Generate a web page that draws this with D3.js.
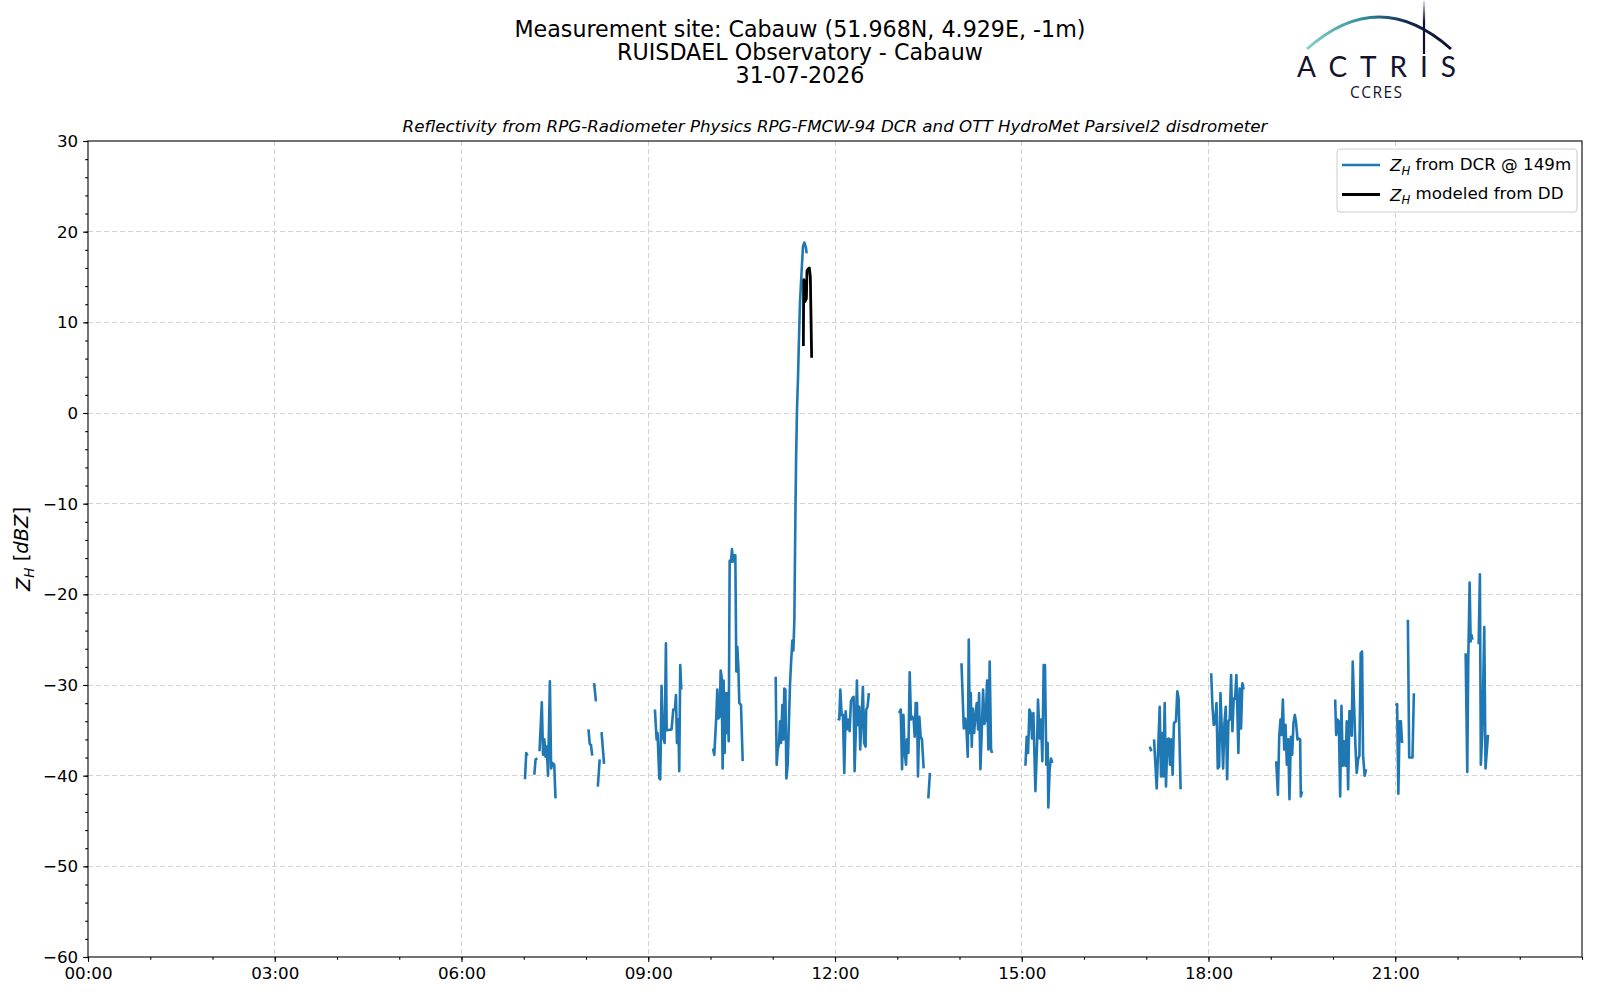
<!DOCTYPE html>
<html>
<head>
<meta charset="utf-8">
<script src="https://cdn.jsdelivr.net/npm/d3@7"></script>
<style>
  body { margin: 0; background: #fff; }
  svg { display: block; font-family: "DejaVu Sans", sans-serif; }
</style>
</head>
<body>
<svg id="chart" width="1600" height="1000"></svg>
<script>
// ---- texts ----
var titleLines = ["Measurement site: Cabauw (51.968N, 4.929E, -1m)", "RUISDAEL Observatory - Cabauw", "31-07-2026"];
var subTitle = "Reflectivity from RPG-Radiometer Physics RPG-FMCW-94 DCR and OTT HydroMet Parsivel2 disdrometer";

// ---- ticks ----
var xMajorHours = [0, 3, 6, 9, 12, 15, 18, 21];
var xMinorHours = d3.range(0, 25, 1);
var yMajor = [-60, -50, -40, -30, -20, -10, 0, 10, 20, 30];
var yMinor = d3.range(-60, 31, 2);

// ---- DCR reflectivity @149m : [hour, dBZ], null = no data ----
var dcr07 = [[7.02,-40.4],[7.04,-37.5],[7.06,-37.8],null,
  [7.17,-39.9],[7.19,-38.2],[7.22,-38.1],null,
  [7.253,-37.3],[7.29,-31.9],[7.31,-37.7],[7.33,-36.0],[7.35,-37.9],[7.37,-36.8],[7.39,-40.0],[7.42,-29.6],
  [7.44,-39.2],[7.46,-38.6],[7.49,-38.8],[7.51,-42.5]];
var dcr08 = [[8.04,-34.9],[8.06,-36.5],[8.08,-36.6],[8.10,-37.8],null,
  [8.13,-29.8],[8.16,-31.8],null,
  [8.19,-41.2],[8.22,-38.2],null,
  [8.25,-35.2],[8.29,-38.7]];
var dcr09 = [[9.107,-32.7],[9.134,-36.0],[9.150,-35.3],[9.177,-40.3],[9.193,-40.4],[9.214,-30.1],[9.236,-35.7],
  [9.263,-36.4],[9.284,-25.4],[9.296,-35.0],[9.375,-34.9],[9.402,-32.7],[9.429,-32.7],[9.445,-31.1],[9.461,-36.4],
  [9.482,-33.8],[9.498,-39.5],[9.514,-27.8],[9.531,-30.5]];
var dcr10 = [[10.040,-37.0],[10.061,-37.7],[10.093,-33.5],[10.109,-30.5],[10.125,-33.7],[10.147,-33.5],[10.163,-28.4],
  [10.179,-29.1],[10.195,-39.2],[10.211,-29.5],[10.227,-37.5],[10.243,-30.9],[10.259,-35.3],[10.275,-30.9],
  [10.292,-36.2],[10.308,-16.3],[10.329,-16.4],[10.345,-15.0],[10.361,-16.4],[10.377,-15.7],[10.399,-15.7],
  [10.415,-28.5],[10.431,-25.8],[10.447,-28.0],[10.463,-32.0],[10.490,-32.2],[10.517,-38.4]];
var dcr11 = [[11.047,-29.1],[11.063,-38.8],[11.079,-37.2],[11.101,-36.4],[11.117,-34.0],[11.133,-36.4],[11.154,-32.2],
  [11.170,-36.0],[11.186,-30.4],[11.203,-30.5],[11.219,-40.3],[11.240,-38.8],[11.261,-33.8],[11.278,-29.8],
  [11.294,-27.6],[11.315,-25.1],[11.331,-26.2],[11.347,-22.9],[11.363,-11.8],[11.375,-5.0],[11.39,0.5],
  [11.405,3.7],[11.416,6.8],[11.437,12.1],[11.465,15.8],[11.486,18.4],[11.508,18.8],[11.534,18.2],[11.545,17.6]];
var dcr12 = [[12.043,-33.7],[12.069,-33.8],[12.085,-30.5],[12.107,-33.3],[12.128,-33.3],[12.149,-39.7],[12.171,-32.9],
  [12.192,-34.9],[12.213,-33.8],[12.235,-35.1],[12.256,-31.8],[12.277,-31.5],[12.299,-31.3],[12.315,-39.5],
  [12.336,-34.6],[12.352,-29.5],[12.368,-34.4],[12.389,-32.4],[12.405,-37.1],[12.427,-33.8],[12.448,-30.2],
  [12.469,-36.4],[12.491,-36.8],[12.501,-32.7],[12.523,-32.4],[12.544,-30.9]];
var dcr13 = [[13.029,-33.1],[13.056,-32.7],[13.077,-39.3],[13.099,-33.3],[13.120,-37.5],[13.141,-38.8],[13.157,-36.0],
  [13.179,-37.5],[13.200,-28.6],[13.221,-33.8],[13.243,-33.5],[13.264,-33.8],[13.280,-35.7],[13.296,-32.0],
  [13.317,-32.0],[13.333,-40.1],[13.355,-33.5],[13.376,-35.7],[13.397,-36.0],[13.424,-39.2],null,
  [13.499,-42.5],[13.525,-39.7]];
var dcr14 = [[14.032,-27.6],[14.069,-34.8],[14.091,-33.7],[14.112,-34.9],[14.133,-37.9],[14.149,-25.0],[14.165,-35.3],
  [14.181,-30.9],[14.197,-36.8],[14.213,-32.6],[14.235,-35.3],[14.256,-33.3],[14.277,-32.0],[14.299,-34.9],
  [14.315,-30.9],[14.336,-39.3],[14.357,-35.3],[14.379,-30.5],[14.400,-34.3],[14.421,-33.8],[14.443,-29.5],
  [14.464,-37.1],[14.485,-27.4],[14.507,-37.1],[14.523,-37.5]];
var dcr15 = [[15.059,-38.9],[15.080,-35.7],[15.101,-37.5],[15.123,-32.7],[15.144,-33.1],[15.165,-35.9],[15.187,-33.1],
  [15.219,-41.7],[15.245,-36.8],[15.261,-31.6],[15.288,-35.9],[15.309,-33.8],[15.331,-38.4],[15.352,-27.8],
  [15.373,-27.8],[15.395,-38.8],[15.416,-36.4],[15.427,-43.5],[15.448,-39.3],[15.469,-38.1],[15.491,-38.6]];
var dcr17 = [[17.056,-36.8],[17.083,-37.3],null,
  [17.125,-36.0],[17.168,-41.4],[17.189,-37.5],[17.216,-32.4],[17.237,-40.1],[17.253,-35.3],[17.275,-40.1],
  [17.296,-32.0],[17.317,-41.2],[17.339,-36.0],[17.360,-35.9],[17.381,-38.8],[17.403,-36.0],[17.424,-39.9],
  [17.445,-34.2],[17.477,-34.0],[17.499,-30.7],[17.520,-31.5],[17.552,-41.5]];
var dcr18 = [[18.043,-28.7],[18.064,-32.4],[18.085,-34.4],[18.107,-34.2],[18.128,-32.0],[18.149,-39.2],[18.171,-39.0],
  [18.192,-30.9],[18.213,-34.8],[18.235,-39.2],[18.256,-34.2],[18.277,-32.4],[18.299,-40.4],[18.320,-34.0],
  [18.341,-33.8],[18.363,-28.9],[18.384,-35.1],[18.405,-31.5],[18.427,-31.5],[18.448,-28.9],[18.464,-32.9],
  [18.480,-37.5],[18.501,-30.4],[18.523,-34.8],[18.544,-29.8],[18.565,-30.5]];
var dcr19 = [[19.088,-38.4],[19.115,-42.1],[19.136,-35.7],[19.157,-33.8],[19.173,-35.5],[19.195,-31.6],[19.216,-37.1],
  [19.237,-34.4],[19.259,-38.8],[19.280,-36.0],[19.301,-42.6],[19.323,-35.7],[19.344,-37.7],[19.365,-34.2],
  [19.387,-33.3],[19.408,-34.2],[19.429,-36.0],[19.451,-35.9],[19.472,-36.0],[19.483,-42.3],[19.504,-41.7]];
var dcr20 = [[20.035,-31.6],[20.051,-35.5],[20.072,-33.8],[20.093,-34.0],[20.115,-42.3],[20.136,-32.3],[20.157,-38.9],
  [20.179,-36.2],[20.200,-38.9],[20.221,-34.0],[20.243,-41.5],[20.264,-32.9],[20.285,-32.9],[20.301,-35.6],
  [20.317,-27.4],[20.339,-32.3],[20.360,-36.7],[20.381,-39.7],[20.403,-38.2],[20.424,-37.8],[20.445,-26.5],
  [20.467,-26.3],[20.483,-37.8],[20.509,-40.0],[20.531,-39.3]];
var dcr21 = [[21.01,-32.3],[21.03,-32.1],[21.05,-42.0],[21.07,-34.0],[21.09,-34.0],[21.11,-36.4],null,
  [21.203,-22.8],[21.224,-38.0],[21.277,-38.0],[21.299,-30.9]];
var dcr22 = [[22.131,-26.5],[22.157,-39.6],[22.173,-27.2],[22.195,-18.7],[22.211,-25.2],[22.225,-24.5],[22.24,-25.0],null,
  [22.34,-25.5],[22.36,-17.8],[22.375,-38.8],[22.40,-35.0],[22.43,-23.6],[22.45,-39.2],[22.49,-35.5]];

// ---- Z_H modeled from disdrometer ----
var ddZh = [[11.492,7.4],[11.497,14.7],[11.505,12.5],[11.512,14.6],[11.520,12.3],[11.540,12.6],[11.550,15.7],
  [11.572,15.9],[11.588,16.0],[11.604,15.0],[11.625,6.1]];

var dcrBursts = [dcr07, dcr08, dcr09, dcr10, dcr11, dcr12, dcr13, dcr14, dcr15, dcr17, dcr18, dcr19, dcr20, dcr21, dcr22];
var dcrZh = [];
dcrBursts.forEach(function(b){ dcrZh = dcrZh.concat(b, [null]); });

// ---- layout ----
var W = 1600, H = 1000;
var margin = {left: 88, right: 18, top: 141, bottom: 43};
var plotW = W - margin.left - margin.right;
var plotH = H - margin.top - margin.bottom;

var svg = d3.select('#chart');

var x = d3.scaleLinear().domain([0, 24]).range([margin.left, margin.left + plotW]);
var y = d3.scaleLinear().domain([-60, 30]).range([margin.top + plotH, margin.top]);

function fmtHour(h){ return (h < 10 ? '0' : '') + h + ':00'; }
function fmtMinus(v){ return v < 0 ? '\u2212' + Math.abs(v) : String(v); }

// grid
var grid = svg.append('g').attr('class', 'grid');
grid.selectAll('line.gx').data(xMajorHours.slice(1)).enter().append('line')
  .attr('x1', function(d){ return x(d); }).attr('x2', function(d){ return x(d); })
  .attr('y1', margin.top).attr('y2', margin.top + plotH);
grid.selectAll('line.gy').data(yMajor.slice(1, -1)).enter().append('line')
  .attr('y1', function(d){ return y(d); }).attr('y2', function(d){ return y(d); })
  .attr('x1', margin.left).attr('x2', margin.left + plotW);
grid.selectAll('line').attr('stroke', '#d2d2d2').attr('stroke-width', 1).attr('stroke-dasharray', '5,3')
  .attr('shape-rendering', 'crispEdges');

// data lines
svg.append('clipPath').attr('id', 'clip').append('rect')
  .attr('x', margin.left).attr('y', margin.top).attr('width', plotW).attr('height', plotH);

var line = d3.line()
  .defined(function(d){ return d !== null; })
  .x(function(d){ return x(d[0]); })
  .y(function(d){ return y(d[1]); });

var plot = svg.append('g').attr('clip-path', 'url(#clip)');
plot.append('path').datum(dcrZh).attr('d', line)
  .attr('fill', 'none').attr('stroke', '#1f77b4').attr('stroke-width', 2.6).attr('stroke-linejoin', 'round');
plot.append('path').datum(ddZh).attr('d', line)
  .attr('fill', 'none').attr('stroke', '#000').attr('stroke-width', 2.8).attr('stroke-linejoin', 'round');

// axes
var xAxis = d3.axisBottom(x).tickValues(xMajorHours).tickFormat(fmtHour).tickSize(4.9).tickPadding(5.5);
var xAxisMinor = d3.axisBottom(x).tickValues(xMinorHours).tickFormat('').tickSize(2.8);
var yAxis = d3.axisLeft(y).tickValues(yMajor).tickFormat(fmtMinus).tickSize(4.9).tickPadding(4.9);
var yAxisMinor = d3.axisLeft(y).tickValues(yMinor).tickFormat('').tickSize(2.8);

var gx = svg.append('g').attr('transform', 'translate(0,' + (margin.top + plotH) + ')');
gx.call(xAxisMinor);
gx.append('g').call(xAxis);
var gy = svg.append('g').attr('transform', 'translate(' + margin.left + ',0)');
gy.call(yAxisMinor);
gy.append('g').call(yAxis);

svg.selectAll('.domain').remove();
svg.selectAll('.tick line').attr('stroke', '#000').attr('stroke-width', 1.1);
svg.selectAll('.tick text').attr('fill', '#000').style('font-size', '16.7px').style('font-family', '"DejaVu Sans", sans-serif');

// frame
svg.append('rect').attr('x', margin.left).attr('y', margin.top).attr('width', plotW).attr('height', plotH)
  .attr('fill', 'none').attr('stroke', '#000').attr('stroke-width', 1.1);

// y label
var yl = svg.append('text').attr('transform', 'translate(30,' + (margin.top + plotH / 2) + ') rotate(-90)')
  .attr('text-anchor', 'middle').style('font-size', '19.5px');
yl.append('tspan').style('font-style', 'italic').text('Z');
yl.append('tspan').style('font-style', 'italic').style('font-size', '13.5px').attr('dy', '0.3em').text('H');
yl.append('tspan').attr('dy', '-0.3em').text(' [');
yl.append('tspan').style('font-style', 'italic').text('dBZ');
yl.append('tspan').text(']');

// titles
svg.selectAll('text.title').data(titleLines).enter().append('text')
  .attr('class', 'title')
  .attr('x', 800).attr('y', function(d, i){ return 36.5 + i * 23.2; })
  .attr('text-anchor', 'middle').style('font-size', '22.2px').attr('fill', '#000')
  .text(function(d){ return d; });
svg.append('text').attr('x', margin.left + plotW / 2).attr('y', 131.5)
  .attr('text-anchor', 'middle').style('font-size', '16.7px').style('font-style', 'italic')
  .text(subTitle);

// legend
var legendItems = [{label: ' from DCR @ 149m', color: '#1f77b4', w: 2.6}, {label: ' modeled from DD', color: '#000', w: 2.8}];
var lg = svg.append('g');
lg.append('rect').attr('x', 1337).attr('y', 149).attr('width', 240).attr('height', 63).attr('rx', 3)
  .attr('fill', '#fff').attr('fill-opacity', 0.8).attr('stroke', '#cccccc').attr('stroke-width', 1);
legendItems.forEach(function(it, i){
  var yy = 165 + i * 29.5;
  lg.append('line').attr('x1', 1342).attr('x2', 1380).attr('y1', yy).attr('y2', yy)
    .attr('stroke', it.color).attr('stroke-width', it.w);
  var t = lg.append('text').attr('x', 1390).attr('y', yy + 6).style('font-size', '16.7px');
  t.append('tspan').style('font-style', 'italic').text('Z');
  t.append('tspan').style('font-style', 'italic').style('font-size', '11.7px').attr('dy', '0.3em').text('H');
  t.append('tspan').attr('dy', '-0.3em').text(it.label);
});

// ACTRIS logo
var defs = svg.append('defs');
var ag = defs.append('linearGradient').attr('id', 'arcGrad').attr('gradientUnits', 'userSpaceOnUse')
  .attr('x1', 1307).attr('x2', 1451).attr('y1', 0).attr('y2', 0);
ag.append('stop').attr('offset', '0%').attr('stop-color', '#86d0c8');
ag.append('stop').attr('offset', '40%').attr('stop-color', '#2f8d98');
ag.append('stop').attr('offset', '70%').attr('stop-color', '#122650');
ag.append('stop').attr('offset', '100%').attr('stop-color', '#0d0d30');
var vg = defs.append('linearGradient').attr('id', 'vGrad').attr('gradientUnits', 'userSpaceOnUse')
  .attr('x1', 0).attr('x2', 0).attr('y1', 0).attr('y2', 55);
vg.append('stop').attr('offset', '0%').attr('stop-color', '#0d0d30').attr('stop-opacity', 0.1);
vg.append('stop').attr('offset', '40%').attr('stop-color', '#0d0d30').attr('stop-opacity', 1);
vg.append('stop').attr('offset', '100%').attr('stop-color', '#0d0d30').attr('stop-opacity', 1);

var logo = svg.append('g');
logo.append('path').attr('d', 'M1307,49 Q1379,-15 1451,49')
  .attr('fill', 'none').attr('stroke', 'url(#arcGrad)').attr('stroke-width', 3);
logo.append('line').attr('x1', 1424).attr('x2', 1424).attr('y1', 1).attr('y2', 54)
  .attr('stroke', 'url(#vGrad)').attr('stroke-width', 2.2);
logo.append('text').attr('x', 1297).attr('y', 77).attr('textLength', 159).attr('lengthAdjust', 'spacing')
  .style('font-family', 'Lato, "Open Sans", sans-serif').style('font-size', '28px').attr('fill', '#12122e')
  .text('ACTRIS');
logo.append('text').attr('x', 1350).attr('y', 98).attr('textLength', 52).attr('lengthAdjust', 'spacing')
  .style('font-family', '"Open Sans", Lato, sans-serif').style('font-size', '15.5px').attr('fill', '#12122e')
  .text('CCRES');
</script>
</body>
</html>
